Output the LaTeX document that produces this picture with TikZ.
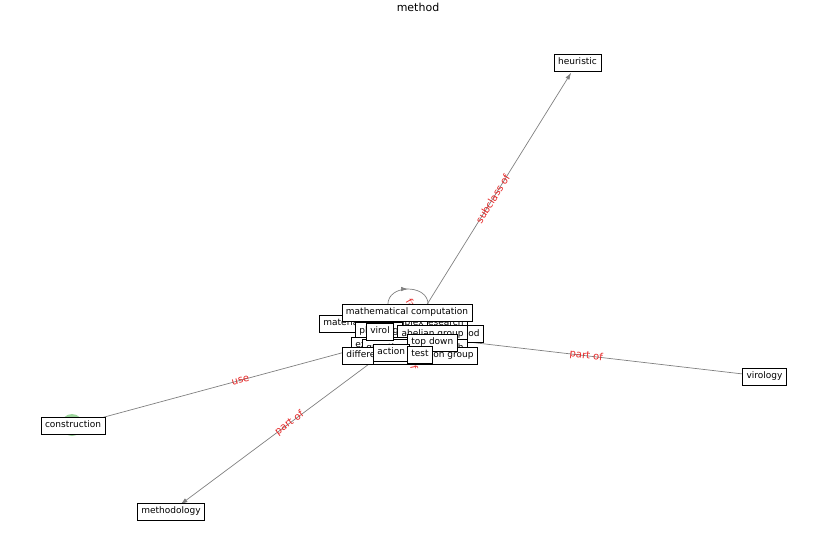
\documentclass[tikz,border=0pt]{standalone}
\usepackage{fontspec}
\setmainfont{DejaVu Sans}
\usetikzlibrary{arrows.meta,backgrounds,decorations.markings}
\definecolor{edgegray}{gray}{0.5}
\definecolor{lblred}{rgb}{0.9,0.15,0.15}
\definecolor{markgreen}{rgb}{0.62,0.84,0.62}
\tikzset{
  concept/.style={draw=black, line width=0.8pt, fill=white, rectangle,
    inner xsep=4pt, inner ysep=4pt, text height=6.8pt, text depth=2.2pt,
    font=\fontsize{9}{11}\selectfont},
  rel/.style={draw=edgegray, line width=0.7pt,
    -{Latex[length=7pt,width=4.5pt]}, shorten >=12pt},
  rellabel/.style={text=lblred, font=\fontsize{10}{12}\selectfont, inner sep=1pt},
}
\begin{document}
\begin{tikzpicture}[x=1pt,y=-1pt]
\useasboundingbox (0,0) rectangle (837,559);

% title
\node[font=\fontsize{11}{13}\selectfont] (title) at (418,7) {method};

% outer concepts
\node[concept] (heuristic) at (577.5,62.5) {heuristic};
\node[concept] (virology) at (764.5,376.5) {virology};
\node[circle, fill=markgreen, minimum size=22pt, inner sep=0pt] (constructionmark) at (72,425) {};
\node[concept] (construction) at (73,425.5) {construction};
\node[concept] (methodology) at (171,511.5) {methodology};

% central cluster, bottom of the stack first
\node[concept] (method) at (408,335) {method};
\node[concept, anchor=east] (scimethod) at (484,334) {scientific method};
\node[concept, anchor=west] (matsci) at (319,323.5) {materials science};
\node[concept, anchor=east] (research) at (468,323.5) {research};
\node[concept, anchor=east] (complex) at (428,323.5) {complex};
\node[concept, anchor=west] (planning) at (355,331) {planning};
\node[concept, anchor=east] (abelian) at (468,334) {abelian group};
\node[concept, anchor=west] (experiment) at (351,345.5) {experiment};
\node[concept, anchor=east] (approach) at (468,348) {approach};
\node[concept, anchor=west] (question) at (362,348) {question};
\node[concept, anchor=west] (differentiation) at (342,355.5) {differentiation};
\node[concept, anchor=east] (transgroup) at (478,355.5) {transformation group};
\node[concept] (mathcomp) at (407,312.5) {mathematical computation};
\node[concept, anchor=west] (virol) at (366,331.5) {virol};
\node[concept, anchor=west] (topdown) at (407,342.5) {top down};
\node[concept, anchor=west] (action) at (373,352.5) {action};
\node[concept, anchor=west] (test) at (407,354.5) {test};

% relations, kept behind the boxes
\begin{scope}[on background layer]
  \draw[rel] (method.center) -- (heuristic.center)
    node[midway, sloped, rellabel] {subclass of};
  \draw[rel] (method.center) -- (virology.center)
    node[midway, sloped, rellabel] {part of};
  \draw[rel] (construction.center) -- (method.center)
    node[midway, sloped, rellabel] {use};
  \draw[rel] (method.center) -- (methodology.center)
    node[midway, sloped, rellabel] {part of};
  % self-loop on method
  \draw[draw=edgegray, line width=0.7pt, postaction=decorate,
    decoration={markings, mark=at position 0.5 with
      {\arrow[edgegray]{Latex[length=7pt,width=4.5pt]}}}]
    (method.center) .. controls +(-69.5,-61.3) and +(69.5,-61.3) .. (method.center);
  \node[rellabel, rotate=-60] (looplabel) at (418,316) {facet of};
  \node[rellabel, rotate=-78] (innerlabel) at (410,353) {part of};
\end{scope}
\end{tikzpicture}
\end{document}
